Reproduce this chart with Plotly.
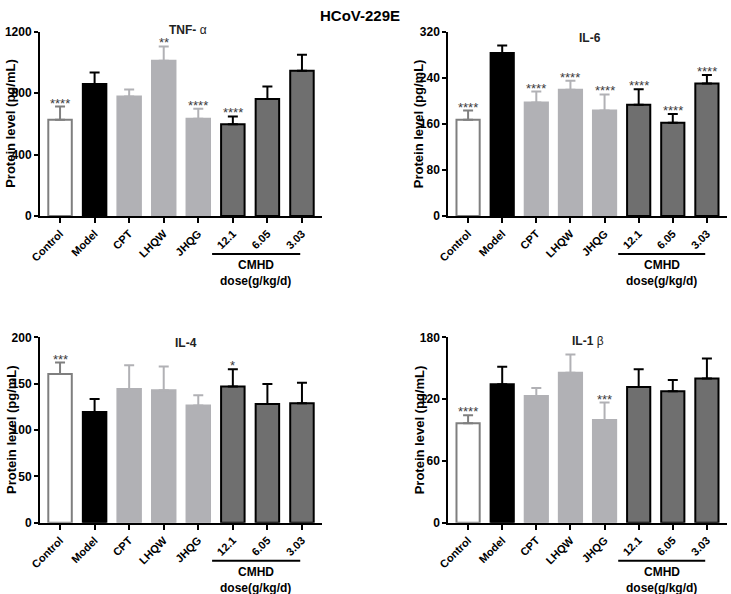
import plotly.graph_objects as go

categories = ["Control", "Model", "CPT", "LHQW", "JHQG", "12.1", "6.05", "3.03"]

tnf_mean = [626, 859, 778, 1011, 633, 598, 761, 946]
tnf_err_top = [713, 935, 824, 1104, 698, 648, 843, 1050]
tnf_stars = ["****", "", "", "**", "****", "****", "", ""]

il6_mean = [167, 283, 197, 219, 183, 193, 162, 230]
il6_err_top = [183, 296, 216, 235, 211, 220, 177, 245]
il6_stars = ["****", "", "****", "****", "****", "****", "****", "****"]

il4_mean = [160.5, 119.5, 144.3, 142.9, 126.3, 146.8, 128, 128.8]
il4_err_top = [172.7, 133.5, 169.9, 168.4, 137.5, 165.5, 149.7, 151]
il4_stars = ["***", "", "", "", "", "*", "", ""]

il1b_mean = [96.5, 134.4, 123, 145.7, 99.8, 131.8, 127.6, 139.9]
il1b_err_top = [104.3, 151.5, 130.8, 163.2, 116.6, 149, 138.6, 159.3]
il1b_stars = ["****", "", "", "", "***", "", "", ""]

panel_titles = ["<b>TNF-</b> α", "<b>IL-6</b>", "<b>IL-4</b>", "<b>IL-1</b> β"]
y_max = [1200, 320, 200, 180]
y_dtick = [400, 80, 50, 60]

W, H = 731, 594
FONT = "Liberation Sans, Arial, sans-serif"


def px_x(v):
    return v / W


def px_y(v):
    return 1 - v / H


fill_colors = ["#ffffff", "#000000", "#b1b1b5", "#b1b1b5", "#b1b1b5", "#6f6f6f", "#6f6f6f", "#6f6f6f"]
line_colors = ["#7f7f7f", "#000000", "#b1b1b5", "#b1b1b5", "#b1b1b5", "#000000", "#000000", "#000000"]

# pixel layout of each panel: (x_left, x_right, y_top, y_bottom)
panels_px = [(40, 322, 31.7, 216), (448.3, 726.7, 31.7, 216),
             (40, 322, 337.3, 522.7), (448.3, 726.7, 337.3, 522.7)]
title_px = [(188, 30), (590, 38.5), (186, 343), (588, 341)]

datasets = [(tnf_mean, tnf_err_top, tnf_stars), (il6_mean, il6_err_top, il6_stars),
            (il4_mean, il4_err_top, il4_stars), (il1b_mean, il1b_err_top, il1b_stars)]

fig = go.Figure()
annotations = []
shapes = []
idx = list(range(len(categories)))
bold11 = dict(family=FONT, size=11, color="black", weight="bold")
bold12 = dict(family=FONT, size=12, color="black", weight="bold")

for p, (means, tops, stars) in enumerate(datasets):
    xl, xr, yt, yb = panels_px[p]
    suffix = "" if p == 0 else str(p + 1)
    xa, ya = "x" + suffix, "y" + suffix
    for i in idx:
        fig.add_trace(go.Bar(
            x=[i], y=[means[i]], xaxis=xa, yaxis=ya, width=0.68,
            marker=dict(color=fill_colors[i], line=dict(color=line_colors[i], width=2)),
            error_y=dict(type="data", symmetric=False, array=[tops[i] - means[i]],
                         arrayminus=[0], color=line_colors[i], thickness=2, width=5),
            showlegend=False, hoverinfo="skip"))
        if stars[i]:
            annotations.append(dict(x=i, y=tops[i], xref=xa, yref=ya, text=stars[i],
                                    showarrow=False, xanchor="center", yanchor="bottom", yshift=-6,
                                    font=dict(family=FONT, size=13, color="#3a3a3a")))
    layout_x = dict(domain=[px_x(xl), px_x(xr)], range=[-0.58, 7.58],
                    tickmode="array", tickvals=idx, ticktext=categories,
                    showline=True, linecolor="black", linewidth=2,
                    ticks="outside", ticklen=5, tickwidth=2, tickcolor="black",
                    tickangle=-45, tickfont=bold11,
                    anchor=ya, showgrid=False, zeroline=False, fixedrange=True, automargin=False)
    layout_y = dict(domain=[px_y(yb), px_y(yt)], range=[0, y_max[p]], dtick=y_dtick[p],
                    showline=True, linecolor="black", linewidth=2,
                    ticks="outside", ticklen=4, tickwidth=2, tickcolor="black",
                    tickfont=bold12,
                    anchor=xa, showgrid=False, zeroline=False, fixedrange=True, automargin=False)
    fig.layout["xaxis" + suffix] = layout_x
    fig.layout["yaxis" + suffix] = layout_y

    # y axis title
    annotations.append(dict(x=px_x(xl - 29), y=px_y((yt + yb) / 2), xref="paper", yref="paper",
                            text="Protein level (pg/mL)", textangle=-90, showarrow=False,
                            xanchor="center", yanchor="middle",
                            font=dict(family=FONT, size=13, color="black", weight="bold")))
    # panel title
    tx, ty = title_px[p]
    annotations.append(dict(x=px_x(tx), y=px_y(ty), xref="paper", yref="paper",
                            text=panel_titles[p], showarrow=False,
                            xanchor="center", yanchor="middle",
                            font=dict(family=FONT, size=12, color="#222222")))
    # CMHD group line and label
    line_y = px_y(yb + 38)
    shapes.append(dict(type="line", xref=xa, yref="paper", x0=4.4, x1=6.95,
                       y0=line_y, y1=line_y, line=dict(color="black", width=2)))
    annotations.append(dict(x=5.67, y=px_y(yb + 49), xref=xa, yref="paper",
                            text="CMHD", showarrow=False,
                            xanchor="center", yanchor="middle", font=bold12))
    annotations.append(dict(x=5.67, y=px_y(yb + 65), xref=xa, yref="paper",
                            text="dose(g/kg/d)", showarrow=False,
                            xanchor="center", yanchor="middle", font=bold12))

annotations.append(dict(x=px_x(360), y=px_y(15), xref="paper", yref="paper",
                        text="HCoV-229E", showarrow=False, xanchor="center", yanchor="middle",
                        font=dict(family=FONT, size=15, color="black", weight="bold")))

fig.update_layout(width=W, height=H, margin=dict(l=0, r=0, t=0, b=0, autoexpand=False),
                  paper_bgcolor="white", plot_bgcolor="white",
                  annotations=annotations, shapes=shapes, bargap=0.3,
                  font=dict(family=FONT))

fig.write_html("out.html", config={"displayModeBar": False},
               post_script="document.body.style.margin='0px';")
